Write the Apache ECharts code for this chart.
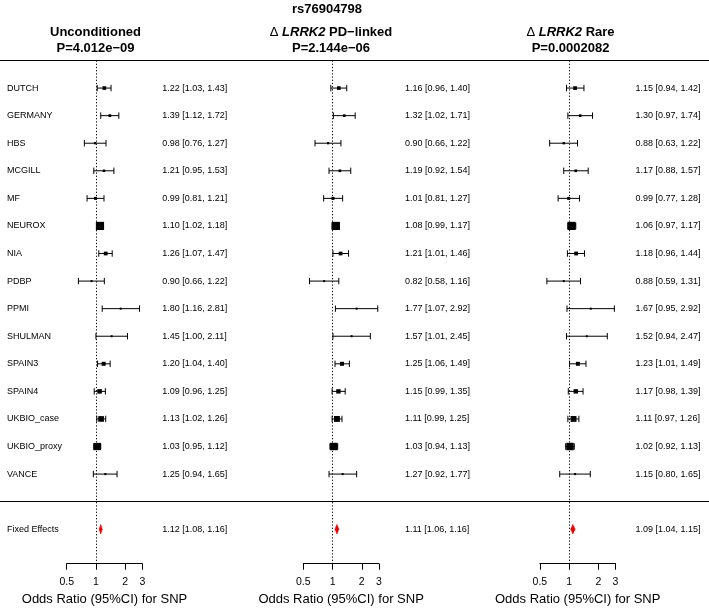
<!DOCTYPE html>
<html><head><meta charset="utf-8">
<script src="https://cdn.jsdelivr.net/npm/echarts@6/dist/echarts.min.js"></script>
<style>html,body{margin:0;padding:0;background:#fff}#c{width:709px;height:608px}</style>
</head><body><div id="c"></div>
<script>
// ---------- data ----------
const snpName = 'rs76904798';
const studies = ['DUTCH','GERMANY','HBS','MCGILL','MF','NEUROX','NIA','PDBP','PPMI','SHULMAN','SPAIN3','SPAIN4','UKBIO_case','UKBIO_proxy','VANCE'];
const fixedLabel = 'Fixed Effects';

// Unconditioned
const orUncond = [1.22,1.39,0.98,1.21,0.99,1.10,1.26,0.90,1.80,1.45,1.20,1.09,1.13,1.03,1.25];
const loUncond = [1.03,1.12,0.76,0.95,0.81,1.02,1.07,0.66,1.16,1.00,1.04,0.96,1.02,0.95,0.94];
const hiUncond = [1.43,1.72,1.27,1.53,1.21,1.18,1.47,1.22,2.81,2.11,1.40,1.25,1.26,1.12,1.65];
const fixedUncond = [1.12,1.08,1.16];

// Delta LRRK2 PD-linked
const orPD = [1.16,1.32,0.90,1.19,1.01,1.08,1.21,0.82,1.77,1.57,1.25,1.15,1.11,1.03,1.27];
const loPD = [0.96,1.02,0.66,0.92,0.81,0.99,1.01,0.58,1.07,1.01,1.06,0.99,0.99,0.94,0.92];
const hiPD = [1.40,1.71,1.22,1.54,1.27,1.17,1.46,1.16,2.92,2.45,1.49,1.35,1.25,1.13,1.77];
const fixedPD = [1.11,1.06,1.16];

// Delta LRRK2 Rare
const orRare = [1.15,1.30,0.88,1.17,0.99,1.06,1.18,0.88,1.67,1.52,1.23,1.17,1.11,1.02,1.15];
const loRare = [0.94,0.97,0.63,0.88,0.77,0.97,0.96,0.59,0.95,0.94,1.01,0.98,0.97,0.92,0.80];
const hiRare = [1.42,1.74,1.22,1.57,1.28,1.17,1.44,1.31,2.92,2.47,1.49,1.39,1.26,1.13,1.65];
const fixedRare = [1.09,1.04,1.15];

const pValues = ['P=4.012e\u221209','P=2.144e\u221206','P=0.0002082'];
const xTicks = [0.5, 1, 2, 3];
const xName = 'Odds Ratio (95%CI) for SNP';

// ---------- layout / style ----------
const FONT = '"Liberation Sans", Arial, Helvetica, sans-serif';
const panels = [
  {title: 'Unconditioned', or: orUncond, lo: loUncond, hi: hiUncond, fixed: fixedUncond},
  {title: '{d|\u0394} {i|LRRK2} PD\u2212linked', or: orPD, lo: loPD, hi: hiPD, fixed: fixedPD},
  {title: '{d|\u0394} {i|LRRK2} Rare', or: orRare, lo: loRare, hi: hiRare, fixed: fixedRare}
];
const n = studies.length;
const sepRow = n + 1, fixedRow = n + 2, yMax = 18.25;
const gridTop = 60.5, gridH = 503.2;
const panelLeft = [66.7, 303.3, 539.9], panelW = 75.6;
const ciMargin = [20, 26, 20];
const titleCenter = [95.5, 331, 570.5];
const maxBox = 8.2, minBox = 2;

const fmt = v => v.toFixed(2);
const isInt = v => Math.abs(v - Math.round(v)) < 1e-6;

const grids = [], xAxes = [], yAxes = [], series = [], titles = [];

titles.push({text: snpName, left: 327, top: 1, textAlign: 'center', padding: 0,
  textStyle: {fontFamily: FONT, fontSize: 13, fontWeight: 'bold', color: '#000', lineHeight: 16}});

panels.forEach((p, k) => {
  grids.push({left: panelLeft[k], top: gridTop, width: panelW, height: gridH, containLabel: false, outerBoundsMode: 'none'});
  xAxes.push({
    gridIndex: k, type: 'log', logBase: 10, min: 0.5, max: 3, position: 'bottom',
    axisLine: {show: true, onZero: false, lineStyle: {color: '#000', width: 1}},
    axisTick: {show: true, inside: false, length: 6, customValues: xTicks, lineStyle: {color: '#000', width: 1}},
    axisLabel: {customValues: xTicks, margin: 13, fontSize: 10.5, fontFamily: FONT, color: '#000',
      formatter: v => String(+(+v).toPrecision(6))},
    splitLine: {show: false},
    name: xName, nameLocation: 'middle', nameGap: 28,
    nameTextStyle: {fontFamily: FONT, fontSize: 13, color: '#000'}
  });
  // right-side CI text axis
  yAxes.push({
    gridIndex: k, type: 'value', inverse: true, min: 0, max: yMax, interval: 1, position: 'right',
    axisLine: {show: false}, axisTick: {show: false}, splitLine: {show: false},
    axisLabel: {show: true, margin: ciMargin[k], align: 'left', fontSize: 9, fontFamily: FONT, color: '#000',
      formatter: v => {
        if (!isInt(v)) return '';
        const r = Math.round(v);
        if (r >= 1 && r <= n) return fmt(p.or[r-1]) + ' [' + fmt(p.lo[r-1]) + ', ' + fmt(p.hi[r-1]) + ']';
        if (r === fixedRow) return fmt(p.fixed[0]) + ' [' + fmt(p.fixed[1]) + ', ' + fmt(p.fixed[2]) + ']';
        return '';
      }}
  });

  // box size from precision (area ~ weight)
  const prec = p.lo.map((l, i) => 3.92 / (Math.log(p.hi[i]) - Math.log(l)));
  const maxPrec = Math.max(...prec);
  const data = studies.map((s, i) => [p.or[i], p.lo[i], p.hi[i], i + 1, Math.max(minBox, maxBox * prec[i] / maxPrec)]);

  series.push({
    type: 'custom', xAxisIndex: k, yAxisIndex: k, silent: true,
    encode: {x: [0, 1, 2], y: 3},
    data: data,
    renderItem: (params, api) => {
      const e = api.value(0), l = api.value(1), h = api.value(2), r = api.value(3), s = api.value(4);
      const pl = api.coord([l, r]), ph = api.coord([h, r]), pe = api.coord([e, r]);
      const cap = 3.2;
      const st = {stroke: '#000', lineWidth: 1};
      return {type: 'group', children: [
        {type: 'line', shape: {x1: pl[0], y1: pl[1], x2: ph[0], y2: ph[1]}, style: st},
        {type: 'line', shape: {x1: pl[0], y1: pl[1] - cap, x2: pl[0], y2: pl[1] + cap}, style: st},
        {type: 'line', shape: {x1: ph[0], y1: ph[1] - cap, x2: ph[0], y2: ph[1] + cap}, style: st},
        {type: 'rect', shape: {x: pe[0] - s / 2, y: pe[1] - s / 2, width: s, height: s}, style: {fill: '#000'}}
      ]};
    },
    markLine: {silent: true, symbol: 'none', animation: false, label: {show: false},
      lineStyle: {type: [1.2, 2], color: '#000', width: 1},
      data: [{xAxis: 1}]}
  });
  series.push({
    type: 'custom', xAxisIndex: k, yAxisIndex: k, silent: true,
    encode: {x: [0, 1, 2], y: 3},
    data: [[p.fixed[0], p.fixed[1], p.fixed[2], fixedRow]],
    renderItem: (params, api) => {
      const e = api.value(0), l = api.value(1), h = api.value(2), r = api.value(3);
      const pl = api.coord([l, r]), ph = api.coord([h, r]), pe = api.coord([e, r]);
      const dh = 4.8;
      return {type: 'polygon', shape: {points: [[pl[0], pl[1]], [pe[0], pe[1] - dh], [ph[0], ph[1]], [pe[0], pe[1] + dh]]},
        style: {fill: '#ee0000', stroke: '#ee0000', lineWidth: 0.6}};
    }
  });

  titles.push({
    text: p.title + '\n' + pValues[k], left: titleCenter[k], top: 25, textAlign: 'center', padding: 0,
    textStyle: {fontFamily: FONT, fontSize: 13, fontWeight: 'bold', color: '#000', lineHeight: 15.5,
      rich: {
        d: {fontFamily: FONT, fontSize: 13, fontWeight: 'normal', color: '#000', lineHeight: 15.5},
        i: {fontFamily: FONT, fontSize: 13, fontWeight: 'bold', fontStyle: 'italic', color: '#000', lineHeight: 15.5}
      }}
  });
});

// study labels on the left of panel 1
yAxes.push({
  gridIndex: 0, type: 'value', inverse: true, min: 0, max: yMax, interval: 1, position: 'left',
  axisLine: {show: false}, axisTick: {show: false}, splitLine: {show: false},
  axisLabel: {show: true, margin: panelLeft[0] - 7, align: 'left', fontSize: 9, fontFamily: FONT, color: '#000',
    formatter: v => {
      if (!isInt(v)) return '';
      const r = Math.round(v);
      if (r >= 1 && r <= n) return studies[r-1];
      if (r === fixedRow) return fixedLabel;
      return '';
    }}
});

// full-width grid for horizontal rules
grids.push({left: 0, right: 0, top: gridTop, height: gridH, outerBoundsMode: 'none'});
xAxes.push({gridIndex: 3, type: 'value', min: 0, max: 1, show: false});
yAxes.push({gridIndex: 3, type: 'value', inverse: true, min: 0, max: yMax, show: false});
series.push({
  type: 'line', xAxisIndex: 3, yAxisIndex: 4, data: [], silent: true,
  markLine: {silent: true, symbol: 'none', animation: false, label: {show: false},
    lineStyle: {type: 'solid', color: '#000', width: 1.2},
    data: [{yAxis: 0}, {yAxis: sepRow}]}
});

const chart = echarts.init(document.getElementById('c'), null, {renderer: 'canvas'});
chart.setOption({
  animation: false,
  backgroundColor: '#fff',
  title: titles,
  grid: grids,
  xAxis: xAxes,
  yAxis: yAxes,
  series: series
});
</script>
</body></html>
